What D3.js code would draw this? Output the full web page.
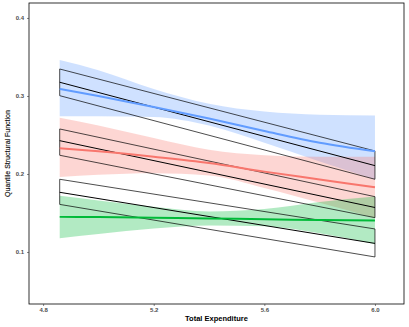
<!DOCTYPE html>
<html>
<head>
<meta charset="utf-8">
<script src="https://cdn.jsdelivr.net/npm/d3@7"></script>
<style>
  body { margin: 0; background: #fff; }
  text { font-family: "Liberation Sans", Arial, sans-serif; }
</style>
</head>
<body>
<div class="chart"></div>
<script>
// x grid for the smoothed fits
const xs = [4.86, 5.0, 5.2, 5.4, 5.6, 5.8, 6.0];

// smoothed fits with confidence bands
const blueFit = [0.309, 0.300, 0.286, 0.271, 0.255, 0.240, 0.229];
const blueLo  = [0.274, 0.274, 0.273, 0.262, 0.240, 0.216, 0.193];
const blueHi  = [0.346, 0.333, 0.309, 0.290, 0.280, 0.276, 0.275];

const redFit = [0.233, 0.229, 0.222, 0.214, 0.203, 0.193, 0.183];
const redLo  = [0.196, 0.199, 0.201, 0.198, 0.182, 0.163, 0.1436];
const redHi  = [0.272, 0.262, 0.246, 0.231, 0.224, 0.222, 0.222];

const greenFit = [0.145, 0.1447, 0.144, 0.143, 0.142, 0.141, 0.1405];
const greenLo  = [0.1175, 0.123, 0.130, 0.134, 0.133, 0.124, 0.110];
const greenHi  = [0.172, 0.166, 0.158, 0.152, 0.155, 0.164, 0.171];

// linear quantile bands (start, end)
const bandX = [4.86, 6.0];
const band1 = { lo: [0.3004, 0.1932], mid: [0.3176, 0.2107], hi: [0.3346, 0.2295] };
const band2 = { lo: [0.2240, 0.1440], mid: [0.2427, 0.1570], hi: [0.2577, 0.1709] };
const band3 = { lo: [0.1610, 0.0936], mid: [0.1765, 0.1110], hi: [0.1932, 0.1295] };

const xTicks = [4.8, 5.2, 5.6, 6.0];
const yTicks = [0.1, 0.2, 0.3, 0.4];

const W = 409, H = 327;
const margin = { top: 3, right: 5, bottom: 23, left: 29 };

const svg = d3.select(".chart").append("svg")
    .attr("width", W)
    .attr("height", H);

const x = d3.scaleLinear()
    .domain([4.749, 6.105])
    .range([margin.left, W - margin.right]);
const y = d3.scaleLinear()
    .domain([0.0333, 0.4192])
    .range([H - margin.bottom, margin.top]);

const fits = [
    { fit: blueFit, lo: blueLo, hi: blueHi, col: "#619CFF", fill: "rgba(97,156,255,0.3)" },
    { fit: redFit, lo: redLo, hi: redHi, col: "#F8766D", fill: "rgba(248,118,109,0.3)" },
    { fit: greenFit, lo: greenLo, hi: greenHi, col: "#00BA38", fill: "rgba(0,186,56,0.3)" }
];

const area = d3.area()
    .x(d => x(d.x))
    .y0(d => y(d.lo))
    .y1(d => y(d.hi))
    .curve(d3.curveMonotoneX);
const line = d3.line()
    .x(d => x(d.x))
    .y(d => y(d.v))
    .curve(d3.curveMonotoneX);

// ribbons
fits.forEach(f => {
    svg.append("path")
        .datum(xs.map((v, i) => ({ x: v, lo: f.lo[i], hi: f.hi[i] })))
        .attr("fill", f.fill)
        .attr("d", area);
});

// black quantile bands
[band1, band2, band3].forEach(b => {
    const outline = bandX.map((v, i) => [x(v), y(b.hi[i])])
        .concat(bandX.slice().reverse().map((v, i) => [x(v), y(b.lo[bandX.length - 1 - i])]));
    svg.append("path")
        .attr("d", "M" + outline.join("L") + "Z")
        .attr("fill", "none")
        .attr("stroke", "#000")
        .attr("stroke-width", 0.7);
    svg.append("path")
        .datum(bandX.map((v, i) => ({ x: v, v: b.mid[i] })))
        .attr("fill", "none")
        .attr("stroke", "#000")
        .attr("stroke-width", 1)
        .attr("d", d3.line().x(d => x(d.x)).y(d => y(d.v)));
});

// fitted lines
fits.forEach(f => {
    svg.append("path")
        .datum(xs.map((v, i) => ({ x: v, v: f.fit[i] })))
        .attr("fill", "none")
        .attr("stroke", f.col)
        .attr("stroke-width", 2)
        .attr("d", line);
});

// panel border
svg.append("rect")
    .attr("x", margin.left)
    .attr("y", margin.top)
    .attr("width", W - margin.left - margin.right)
    .attr("height", H - margin.top - margin.bottom)
    .attr("fill", "none")
    .attr("stroke", "#000")
    .attr("stroke-width", 0.8);

// axes
const xAxis = svg.append("g")
    .attr("transform", `translate(0,${H - margin.bottom})`)
    .call(d3.axisBottom(x).tickValues(xTicks).tickFormat(d3.format(".1f")).tickSize(2).tickPadding(2));
const yAxis = svg.append("g")
    .attr("transform", `translate(${margin.left},0)`)
    .call(d3.axisLeft(y).tickValues(yTicks).tickFormat(d3.format(".1f")).tickSize(2).tickPadding(3));
[xAxis, yAxis].forEach(g => {
    g.select(".domain").remove();
    g.selectAll(".tick line").attr("stroke", "#333").attr("stroke-width", 0.6);
    g.selectAll(".tick text")
        .attr("fill", "#4d4d4d")
        .style("font-size", "6px")
        .style("font-weight", "bold")
        .style("font-family", "Liberation Sans, Arial, sans-serif");
});

// axis titles
svg.append("text")
    .attr("x", (margin.left + W - margin.right) / 2)
    .attr("y", 321)
    .attr("text-anchor", "middle")
    .style("font-size", "7.5px")
    .style("font-weight", "bold")
    .text("Total Expenditure");
svg.append("text")
    .attr("transform", `translate(10,${(margin.top + H - margin.bottom) / 2}) rotate(-90)`)
    .attr("text-anchor", "middle")
    .attr("fill", "#111")
    .style("font-size", "7px")
    .style("stroke", "#111")
    .style("stroke-width", 0.15)
    .text("Quantile Structural Function");
</script>
</body>
</html>
